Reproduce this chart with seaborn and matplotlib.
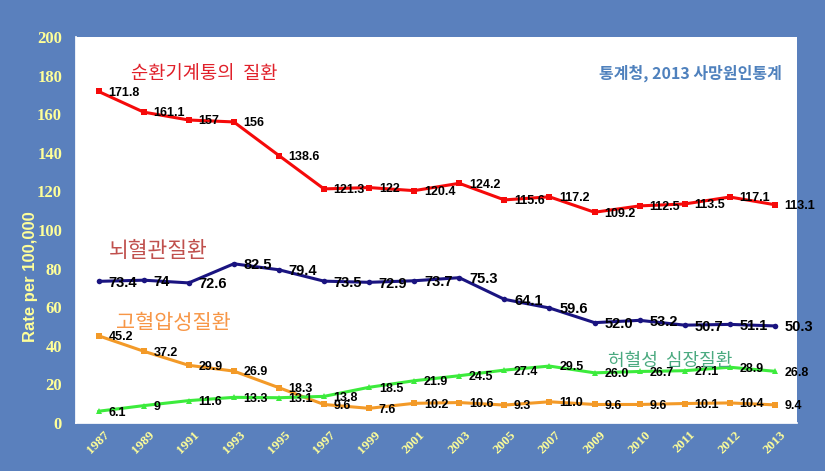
import numpy as np
import matplotlib
matplotlib.use("Agg")
import matplotlib.pyplot as plt
import seaborn as sns

# ---------- data
years = ["1987", "1989", "1991", "1993", "1995", "1997", "1999", "2001",
         "2003", "2005", "2007", "2009", "2010", "2011", "2012", "2013"]
circulatory = [171.8, 161.1, 157, 156, 138.6, 121.3, 122, 120.4,
               124.2, 115.6, 117.2, 109.2, 112.5, 113.5, 117.1, 113.1]
cerebrovascular = [73.4, 74, 72.6, 82.5, 79.4, 73.5, 72.9, 73.7,
                   75.3, 64.1, 59.6, 52.0, 53.2, 50.7, 51.1, 50.3]
hypertensive = [45.2, 37.2, 29.9, 26.9, 18.3, 9.6, 7.6, 10.2,
                10.6, 9.3, 11.0, 9.6, 9.6, 10.1, 10.4, 9.4]
ischemic = [6.1, 9, 11.6, 13.3, 13.1, 13.8, 18.5, 21.9,
            24.5, 27.4, 29.5, 26.0, 26.7, 27.1, 28.9, 26.8]

circ_labels = ["171.8", "161.1", "157", "156", "138.6", "121.3", "122", "120.4",
               "124.2", "115.6", "117.2", "109.2", "112.5", "113.5", "117.1", "113.1"]
cere_labels = ["73.4", "74", "72.6", "82.5", "79.4", "73.5", "72.9", "73.7",
               "75.3", "64.1", "59.6", "52.0", "53.2", "50.7", "51.1", "50.3"]
hyp_labels = ["45.2", "37.2", "29.9", "26.9", "18.3", "9.6", "7.6", "10.2",
              "10.6", "9.3", "11.0", "9.6", "9.6", "10.1", "10.4", "9.4"]
isch_labels = ["6.1", "9", "11.6", "13.3", "13.1", "13.8", "18.5", "21.9",
               "24.5", "27.4", "29.5", "26.0", "26.7", "27.1", "28.9", "26.8"]

BG = "#5A80BD"
TICK = "#FFFF99"

sns.set_theme(style="white")
plt.rcParams["font.family"] = ["Liberation Sans", "DejaVu Sans"]

fig = plt.figure(figsize=(8.25, 4.71), dpi=100, facecolor=BG)
ax = fig.add_axes([0.0921, 0.1019, 0.8745, 0.8195])
ax.set_facecolor("white")

x = np.arange(len(years))

series = [
    (circulatory, circ_labels, "#F50A0A", "s", 5, 9),
    (cerebrovascular, cere_labels, "#1A1480", "o", 4, 10.5),
    (hypertensive, hyp_labels, "#F39A28", "s", 5, 9),
    (ischemic, isch_labels, "#3CEB3C", "^", 5, 9),
]

for vals, labs, col, mk, ms, fs in series:
    sns.lineplot(x=x, y=vals, ax=ax, color=col, marker=mk, markersize=ms,
                 markeredgewidth=0, linewidth=2.2, clip_on=False)
    for xi, v, t in zip(x, vals, labs):
        ax.annotate(t, (xi, v), xytext=(7, -1), textcoords="offset points",
                    ha="left", va="center", fontsize=fs, fontweight="bold",
                    color="black", annotation_clip=False)

ax.set_xlim(-0.5, len(years) - 0.5)
ax.set_ylim(0, 200)
ax.set_yticks(np.arange(0, 201, 20))

ax.set_xticks(x)
ax.set_xticklabels(years, rotation=45, ha="center", va="top",
                   fontsize=9.5, fontweight="bold",
                   family=["Liberation Serif"], color=TICK)
ax.set_xticks(np.arange(-0.5, len(years), 1), minor=True)
ax.tick_params(axis="x", which="major", length=0, pad=4)
ax.tick_params(axis="x", which="minor", length=4, color="white", width=1,
               direction="out")
ax.tick_params(axis="y", length=5, color="white", width=1, direction="out",
               labelsize=12, labelcolor=TICK, pad=5)
for lbl in ax.get_yticklabels():
    lbl.set_family(["Liberation Serif"])
    lbl.set_fontweight("bold")

for s in ax.spines.values():
    s.set_visible(False)
ax.spines["left"].set_visible(True)
ax.spines["left"].set_color("white")
ax.spines["bottom"].set_visible(True)
ax.spines["bottom"].set_color("white")

ax.set_ylabel("Rate per 100,000", fontsize=12, fontweight="bold",
              color=TICK, labelpad=2)
ax.yaxis.set_label_coords(-0.052, 0.38)
ax.set_xlabel("")

kr = ["Noto Sans CJK KR", "DejaVu Sans"]
ax.text(0.72, 181, "순환기계통의  질환", fontsize=13.5, color="#E0202A", family=kr,
        va="center", ha="left")
ax.text(0.22, 89, "뇌혈관질환", fontsize=15.5, color="#C0504D", family=kr,
        va="center", ha="left")
ax.text(0.38, 52, "고혈압성질환", fontsize=15, color="#F79646", family=kr,
        va="center", ha="left")
ax.text(11.3, 32, "허혈성  심장질환", fontsize=13, color="#4BAA80", family=kr,
        va="center", ha="left")
ax.text(11.1, 181, "통계청, 2013 사망원인통계", fontsize=11.5, color="#4F81BD",
        family=kr, fontweight="bold", va="center", ha="left")

fig.savefig("out.png", dpi=100, facecolor=BG)
